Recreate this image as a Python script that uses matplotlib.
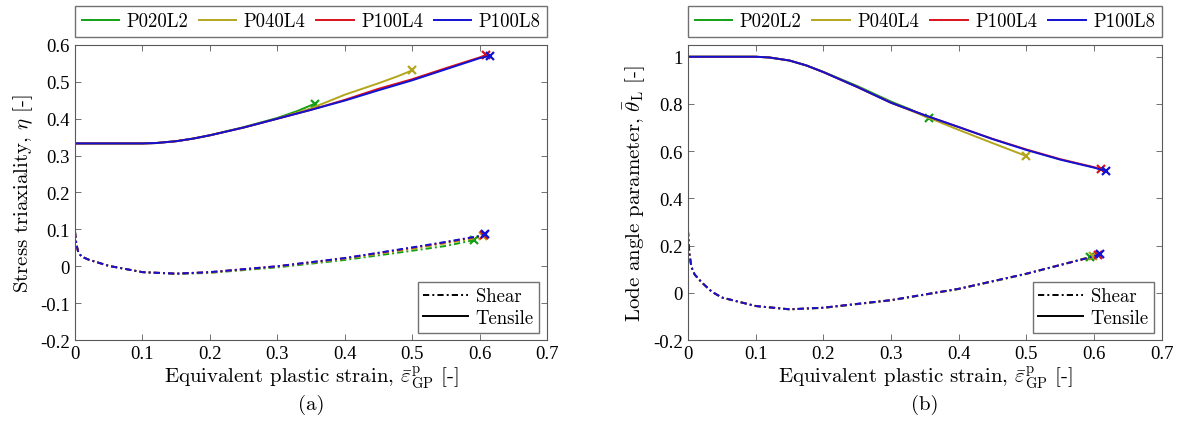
import numpy as np
import matplotlib
matplotlib.use('Agg')
import matplotlib.pyplot as plt
from matplotlib.lines import Line2D
from matplotlib.ticker import FuncFormatter, MultipleLocator

plt.rcParams.update({'font.size': 13, 'font.family': 'serif',
                     'font.serif': ['Liberation Serif', 'DejaVu Serif'],
                     'mathtext.fontset': 'cm'})
CM = {'family': 'cmr10'}
DASHDOT = (3.2, 1.6, 1.0, 1.6)

specimens = ['P020L2', 'P040L4', 'P100L4', 'P100L8']
colors = ['#14a014', '#b3a61c', '#d8101c', '#1212d2']

# stress triaxiality - tensile
eta_t_x = {
    'P020L2': [0, 0.05, 0.1, 0.12, 0.15, 0.175, 0.2, 0.25, 0.3, 0.33, 0.356],
    'P040L4': [0, 0.05, 0.1, 0.12, 0.15, 0.175, 0.2, 0.25, 0.3, 0.35, 0.4, 0.45, 0.48, 0.5],
    'P100L4': [0, 0.05, 0.1, 0.12, 0.15, 0.175, 0.2, 0.25, 0.3, 0.35, 0.4, 0.45, 0.5, 0.55, 0.6, 0.61],
    'P100L8': [0, 0.05, 0.1, 0.12, 0.15, 0.175, 0.2, 0.25, 0.3, 0.35, 0.4, 0.45, 0.5, 0.55, 0.6, 0.615],
}
eta_t_y = {
    'P020L2': [0.333, 0.333, 0.333, 0.334, 0.339, 0.346, 0.355, 0.377, 0.402, 0.421, 0.441],
    'P040L4': [0.333, 0.333, 0.333, 0.334, 0.339, 0.346, 0.355, 0.376, 0.4, 0.428, 0.465, 0.496, 0.516, 0.531],
    'P100L4': [0.333, 0.333, 0.333, 0.334, 0.339, 0.346, 0.355, 0.376, 0.4, 0.424, 0.451, 0.481, 0.507, 0.537, 0.566, 0.573],
    'P100L8': [0.333, 0.333, 0.333, 0.334, 0.339, 0.346, 0.355, 0.376, 0.4, 0.424, 0.449, 0.477, 0.504, 0.534, 0.564, 0.57],
}
# stress triaxiality - shear
eta_s_x = {
    'P020L2': [0, 0.002, 0.005, 0.01, 0.02, 0.05, 0.1, 0.15, 0.2, 0.3, 0.4, 0.5, 0.55, 0.592],
    'P040L4': [0, 0.002, 0.005, 0.01, 0.02, 0.05, 0.1, 0.15, 0.2, 0.3, 0.4, 0.5, 0.55, 0.6, 0.605],
    'P100L4': [0, 0.002, 0.005, 0.01, 0.02, 0.05, 0.1, 0.15, 0.2, 0.3, 0.4, 0.5, 0.55, 0.6, 0.606],
    'P100L8': [0, 0.002, 0.005, 0.01, 0.02, 0.05, 0.1, 0.15, 0.2, 0.3, 0.4, 0.5, 0.55, 0.6, 0.608],
}
eta_s_y = {
    'P020L2': [0.094, 0.06, 0.037, 0.026, 0.018, 0.001, -0.016, -0.021, -0.018, -0.003, 0.017, 0.042, 0.055, 0.071],
    'P040L4': [0.094, 0.06, 0.037, 0.026, 0.018, 0.001, -0.016, -0.02, -0.017, -0.001, 0.02, 0.047, 0.062, 0.078, 0.081],
    'P100L4': [0.094, 0.06, 0.037, 0.026, 0.018, 0.001, -0.016, -0.02, -0.016, 0.0, 0.022, 0.05, 0.065, 0.081, 0.085],
    'P100L8': [0.094, 0.06, 0.037, 0.026, 0.018, 0.001, -0.016, -0.02, -0.016, 0.0, 0.022, 0.051, 0.066, 0.082, 0.087],
}

# Lode angle parameter - tensile
lode_t_x = {
    'P020L2': [0, 0.05, 0.1, 0.12, 0.15, 0.175, 0.2, 0.25, 0.3, 0.33, 0.356],
    'P040L4': [0, 0.05, 0.1, 0.12, 0.15, 0.175, 0.2, 0.25, 0.3, 0.35, 0.4, 0.45, 0.5],
    'P100L4': [0, 0.05, 0.1, 0.12, 0.15, 0.175, 0.2, 0.25, 0.3, 0.35, 0.4, 0.45, 0.5, 0.55, 0.6, 0.61],
    'P100L8': [0, 0.05, 0.1, 0.12, 0.15, 0.175, 0.2, 0.25, 0.3, 0.35, 0.4, 0.45, 0.5, 0.55, 0.6, 0.617],
}
lode_t_y = {
    'P020L2': [1.0, 1.0, 1.0, 0.997, 0.984, 0.963, 0.936, 0.876, 0.81, 0.775, 0.739],
    'P040L4': [1.0, 1.0, 1.0, 0.997, 0.984, 0.963, 0.935, 0.872, 0.805, 0.748, 0.69, 0.634, 0.579],
    'P100L4': [1.0, 1.0, 1.0, 0.997, 0.984, 0.963, 0.935, 0.872, 0.805, 0.752, 0.702, 0.652, 0.607, 0.566, 0.532, 0.523],
    'P100L8': [1.0, 1.0, 1.0, 0.997, 0.984, 0.963, 0.935, 0.872, 0.805, 0.752, 0.702, 0.651, 0.605, 0.564, 0.53, 0.516],
}
# Lode angle parameter - shear
lode_s_x = {
    'P020L2': [0, 0.002, 0.005, 0.01, 0.02, 0.035, 0.05, 0.1, 0.15, 0.2, 0.3, 0.4, 0.5, 0.594],
    'P040L4': [0, 0.002, 0.005, 0.01, 0.02, 0.035, 0.05, 0.1, 0.15, 0.2, 0.3, 0.4, 0.5, 0.598],
    'P100L4': [0, 0.002, 0.005, 0.01, 0.02, 0.035, 0.05, 0.1, 0.15, 0.2, 0.3, 0.4, 0.5, 0.6, 0.605],
    'P100L8': [0, 0.002, 0.005, 0.01, 0.02, 0.035, 0.05, 0.1, 0.15, 0.2, 0.3, 0.4, 0.5, 0.6, 0.608],
}
lode_s_y = {
    'P020L2': [0.266, 0.17, 0.11, 0.077, 0.045, 0.005, -0.02, -0.056, -0.07, -0.064, -0.032, 0.016, 0.08, 0.151],
    'P040L4': [0.266, 0.17, 0.11, 0.077, 0.045, 0.005, -0.02, -0.056, -0.07, -0.064, -0.032, 0.016, 0.08, 0.155],
    'P100L4': [0.266, 0.17, 0.11, 0.077, 0.045, 0.005, -0.02, -0.056, -0.07, -0.063, -0.031, 0.017, 0.081, 0.154, 0.16],
    'P100L8': [0.266, 0.17, 0.11, 0.077, 0.045, 0.005, -0.02, -0.056, -0.07, -0.063, -0.031, 0.017, 0.081, 0.155, 0.164],
}

fig = plt.figure(figsize=(11.79, 4.27), dpi=100)
ax1 = fig.add_axes([0.0636, 0.2014, 0.4003, 0.691])
ax2 = fig.add_axes([0.5835, 0.2014, 0.402, 0.691])


def draw(ax, tx, ty, sx, sy):
    for name, c in zip(specimens, colors):
        ax.plot(tx[name], ty[name], '-', color=c, lw=1.4, label=name)
        ax.plot(tx[name][-1], ty[name][-1], 'x', color=c, ms=6, mew=1.6)
        ax.plot(sx[name], sy[name], color=c, lw=1.4, dashes=DASHDOT)
        ax.plot(sx[name][-1], sy[name][-1], 'x', color=c, ms=6, mew=1.6)


def style(ax, ylo, yhi):
    ax.set_xlim(0, 0.7)
    ax.set_ylim(ylo, yhi)
    ax.xaxis.set_major_locator(MultipleLocator(0.1))
    ax.xaxis.set_major_formatter(FuncFormatter(lambda v, p: f'{v:g}'))
    ax.yaxis.set_major_formatter(FuncFormatter(lambda v, p: f'{v:g}'))
    ax.tick_params(direction='in', top=True, right=True, length=4,
                   width=0.6, color='0.35', labelsize=13.5)
    for s in ax.spines.values():
        s.set_color('0.35')
        s.set_linewidth(0.8)
    ax.set_xlabel(r'Equivalent plastic strain, $\bar{\varepsilon}^{\rm p}_{\rm GP}$ [-]',
                  fontdict=CM, fontsize=15, labelpad=1)
    ax.legend(loc='lower left', bbox_to_anchor=(0, 1.027, 1, 0.102), mode='expand',
              ncol=4, borderaxespad=0, fancybox=False, edgecolor='0.3',
              prop={'family': 'cmr10', 'size': 13.5}, handlelength=2.0,
              handletextpad=0.4, columnspacing=0.6, borderpad=0.35)
    leg = ax.legend_
    ls = [Line2D([], [], color='k', lw=1.4, dashes=DASHDOT),
          Line2D([], [], color='k', ls='-', lw=1.4)]
    ax.legend(ls, ['Shear', 'Tensile'], loc='lower right', fancybox=False,
              edgecolor='0.3', prop={'family': 'cmr10', 'size': 13.5},
              borderaxespad=0.4, handlelength=2.4, handletextpad=0.4,
              borderpad=0.3, labelspacing=0.2)
    ax.add_artist(leg)


draw(ax1, eta_t_x, eta_t_y, eta_s_x, eta_s_y)
style(ax1, -0.2, 0.6)
ax1.yaxis.set_major_locator(MultipleLocator(0.1))
ax1.set_ylabel(r'Stress triaxiality, $\eta$ [-]', fontdict=CM, fontsize=15)

draw(ax2, lode_t_x, lode_t_y, lode_s_x, lode_s_y)
style(ax2, -0.2, 1.05)
ax2.yaxis.set_major_locator(MultipleLocator(0.2))
ax2.set_ylabel(r'Lode angle parameter, $\bar{\theta}_{\rm L}$ [-]', fontdict=CM, fontsize=15)

fig.text(0.0636 + 0.4003 / 2, 0.04, '(a)', ha='center', fontdict=CM, fontsize=15)
fig.text(0.5835 + 0.402 / 2, 0.04, '(b)', ha='center', fontdict=CM, fontsize=15)

plt.savefig('out.png', dpi=100)
